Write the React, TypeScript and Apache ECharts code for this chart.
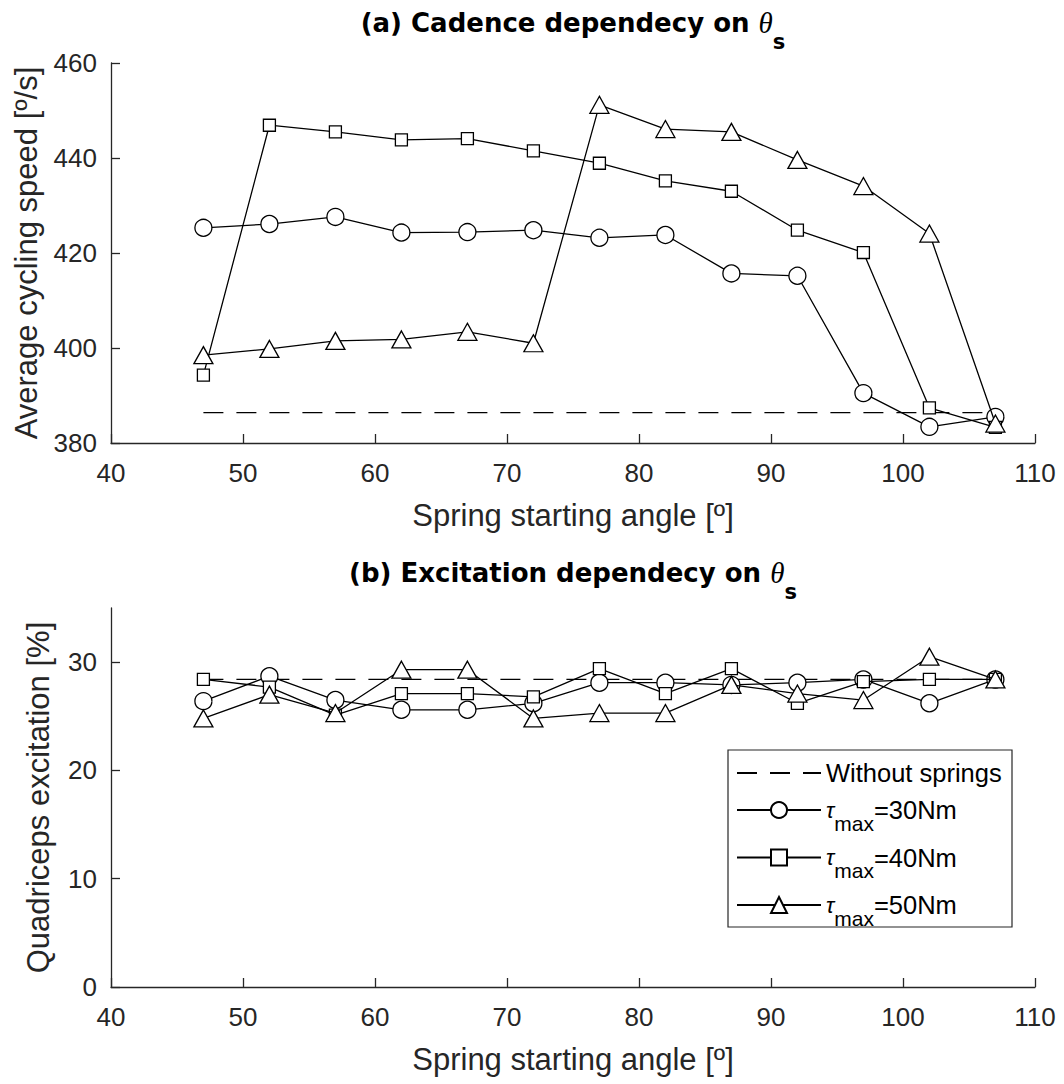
import React, { useEffect, useRef } from "react";
import * as echarts from "echarts";

const angles = [47, 52, 57, 62, 67, 72, 77, 82, 87, 92, 97, 102, 107];
const cadence30 = [425.3, 426.1, 427.6, 424.3, 424.4, 424.8, 423.2, 423.8, 415.7, 415.2, 390.5, 383.4, 385.5];
const cadence40 = [394.3, 446.9, 445.5, 443.8, 444.1, 441.5, 438.9, 435.2, 433.0, 424.8, 420.1, 387.4, 383.3];
const cadence50 = [398.5, 399.8, 401.5, 401.8, 403.4, 401.0, 451.2, 446.1, 445.5, 439.6, 434.1, 424.1, 384.1];
const cadenceNoSpring = 386.4;
const excitation30 = [26.4, 28.7, 26.5, 25.6, 25.6, 26.2, 28.1, 28.1, 27.9, 28.1, 28.4, 26.2, 28.4];
const excitation40 = [28.4, 27.7, 25.1, 27.1, 27.1, 26.8, 29.4, 27.1, 29.4, 26.2, 28.2, 28.4, 28.4];
const excitation50 = [24.8, 27.0, 25.3, 29.3, 29.3, 24.8, 25.3, 25.3, 27.9, 27.1, 26.5, 30.5, 28.4];
const excitationNoSpring = 28.4;
const noSpringRange = [47, 107];
const bottomYTicks = [0, 10, 20, 30];
const seriesNames = ["Without springs", "t30", "t40", "t50"];
const legendLabels: Record<string, string> = {
  "Without springs": "{n|Without springs}",
  t30: "{tau|τ}{sub|max}{n|=30Nm}",
  t40: "{tau|τ}{sub|max}{n|=40Nm}",
  t50: "{tau|τ}{sub|max}{n|=50Nm}",
};

const FONT = "'Liberation Sans', Arial, Helvetica, sans-serif";
const TITLE_FONT = "'DejaVu Sans', 'Liberation Sans', sans-serif";
const AXIS_COLOR = "#262626";

const pair = (xs: number[], ys: number[]) => xs.map((x, i) => [x, ys[i]]);

export default function App() {
  const ref = useRef<HTMLDivElement>(null);
  useEffect(() => {
    if (!ref.current) return;
    const chart = echarts.init(ref.current, null, { renderer: "svg" });

    const xAxisBase = (gridIndex: number) => ({
      type: "value",
      gridIndex,
      min: 40,
      max: 110,
      interval: 10,
      name: "Spring starting angle [º]",
      nameLocation: "middle",
      nameGap: 57,
      nameTextStyle: { fontFamily: FONT, fontSize: 31, color: AXIS_COLOR },
      axisLine: { show: true, onZero: false, lineStyle: { color: AXIS_COLOR, width: 1.3 } },
      axisTick: { show: true, inside: true, length: 9, lineStyle: { color: AXIS_COLOR, width: 1.3 } },
      axisLabel: { fontFamily: FONT, fontSize: 26, color: AXIS_COLOR, margin: 17 },
      splitLine: { show: false },
    });

    const marker = (symbol: string, size: any) => ({
      symbol,
      symbolSize: size,
      showSymbol: true,
      itemStyle: { color: "#fff", borderColor: "#000", borderWidth: 1.3 },
      lineStyle: { color: "#000", width: 1.3 },
      emphasis: { disabled: true },
    });

    const dashed = (xi: number, value: number) => ({
      type: "line",
      name: seriesNames[0],
      xAxisIndex: xi,
      yAxisIndex: xi,
      data: noSpringRange.map((x) => [x, value]),
      symbol: "none",
      itemStyle: { color: "#000", opacity: 0 },
      lineStyle: { color: "#000", width: 1.3, type: [20, 13] },
      emphasis: { disabled: true },
      z: 2,
    });

    const titleRich = {
      b: { fontFamily: TITLE_FONT, fontSize: 26, fontWeight: "bold", color: "#000", lineHeight: 30, verticalAlign: "middle" },
      t: { fontFamily: "'Liberation Serif', serif", fontSize: 29, fontStyle: "italic", color: "#000", lineHeight: 30, verticalAlign: "middle" },
      s: { fontFamily: TITLE_FONT, fontSize: 21, fontWeight: "bold", color: "#000", lineHeight: 59, verticalAlign: "bottom" },
    };

    const option: any = {
      animation: false,
      backgroundColor: "#fff",
      grid: [
        { left: 111, width: 924, top: 63, height: 380 },
        { left: 111, width: 924, top: 608, height: 379 },
      ],
      xAxis: [xAxisBase(0), xAxisBase(1)],
      yAxis: [
        {
          type: "value",
          gridIndex: 0,
          min: 380,
          max: 460,
          interval: 20,
          name: "Average cycling speed [º/s]",
          nameLocation: "middle",
          nameGap: 69,
          nameTextStyle: { fontFamily: FONT, fontSize: 31, color: AXIS_COLOR },
          axisLine: { show: true, onZero: false, lineStyle: { color: AXIS_COLOR, width: 1.3 } },
          axisTick: { show: true, inside: true, length: 9, lineStyle: { color: AXIS_COLOR, width: 1.3 } },
          axisLabel: { fontFamily: FONT, fontSize: 26, color: AXIS_COLOR, margin: 14 },
          splitLine: { show: false },
        },
        {
          type: "value",
          gridIndex: 1,
          min: 0,
          max: 35,
          interval: 10,
          name: "Quadriceps excitation [%]",
          nameLocation: "middle",
          nameGap: 57,
          nameTextStyle: { fontFamily: FONT, fontSize: 31, color: AXIS_COLOR },
          axisLine: { show: true, onZero: false, lineStyle: { color: AXIS_COLOR, width: 1.3 } },
          axisTick: { show: true, inside: true, length: 9, customValues: bottomYTicks, lineStyle: { color: AXIS_COLOR, width: 1.3 } },
          axisLabel: { fontFamily: FONT, fontSize: 26, color: AXIS_COLOR, margin: 14, customValues: bottomYTicks },
          splitLine: { show: false },
        },
      ],
      legend: {
        orient: "vertical",
        left: 736,
        top: 760,
        padding: 0,
        itemWidth: 84,
        itemHeight: 20,
        itemGap: 11,
        selectedMode: false,
        data: [
          { name: seriesNames[0], itemStyle: { opacity: 0 } },
          { name: seriesNames[1] },
          { name: seriesNames[2] },
          { name: seriesNames[3] },
        ],
        formatter: (name: string) => legendLabels[name] || name,
        textStyle: {
          fontFamily: FONT,
          fontSize: 25.5,
          color: "#000",
          rich: {
            n: { fontFamily: FONT, fontSize: 25.5, color: "#000", lineHeight: 25, verticalAlign: "middle" },
            tau: { fontFamily: FONT, fontSize: 22, fontStyle: "italic", color: "#000", lineHeight: 25, verticalAlign: "middle" },
            sub: { fontFamily: FONT, fontSize: 21, color: "#000", lineHeight: 47, verticalAlign: "bottom" },
          },
        },
      },
      graphic: [
        {
          type: "rect",
          z: 3,
          shape: { x: 728, y: 750, width: 284, height: 177 },
          style: { fill: "#fff", stroke: AXIS_COLOR, lineWidth: 1.2 },
        },
        {
          type: "text",
          x: 573,
          y: 23,
          style: {
            text: "{b|(a) Cadence dependecy on }{t|θ}{s|s}",
            rich: titleRich,
            align: "center",
            verticalAlign: "middle",
          },
        },
        {
          type: "text",
          x: 573,
          y: 573,
          style: {
            text: "{b|(b) Excitation dependecy on }{t|θ}{s|s}",
            rich: titleRich,
            align: "center",
            verticalAlign: "middle",
          },
        },
      ],
      series: [
        dashed(0, cadenceNoSpring),
        { type: "line", name: seriesNames[1], xAxisIndex: 0, yAxisIndex: 0, data: pair(angles, cadence30), ...marker("circle", 17), z: 3 },
        { type: "line", name: seriesNames[2], xAxisIndex: 0, yAxisIndex: 0, data: pair(angles, cadence40), ...marker("rect", 12), z: 4 },
        { type: "line", name: seriesNames[3], xAxisIndex: 0, yAxisIndex: 0, data: pair(angles, cadence50), ...marker("triangle", [19, 17]), z: 5 },
        dashed(1, excitationNoSpring),
        { type: "line", name: seriesNames[1], xAxisIndex: 1, yAxisIndex: 1, data: pair(angles, excitation30), ...marker("circle", 17), z: 3 },
        { type: "line", name: seriesNames[2], xAxisIndex: 1, yAxisIndex: 1, data: pair(angles, excitation40), ...marker("rect", 12), z: 4 },
        { type: "line", name: seriesNames[3], xAxisIndex: 1, yAxisIndex: 1, data: pair(angles, excitation50), ...marker("triangle", [19, 17]), z: 5 },
      ],
    };

    chart.setOption(option);
    return () => chart.dispose();
  }, []);

  return (
    <div
      ref={ref}
      style={{ position: "absolute", left: 0, top: 0, width: 1064, height: 1084, background: "#fff" }}
    />
  );
}
